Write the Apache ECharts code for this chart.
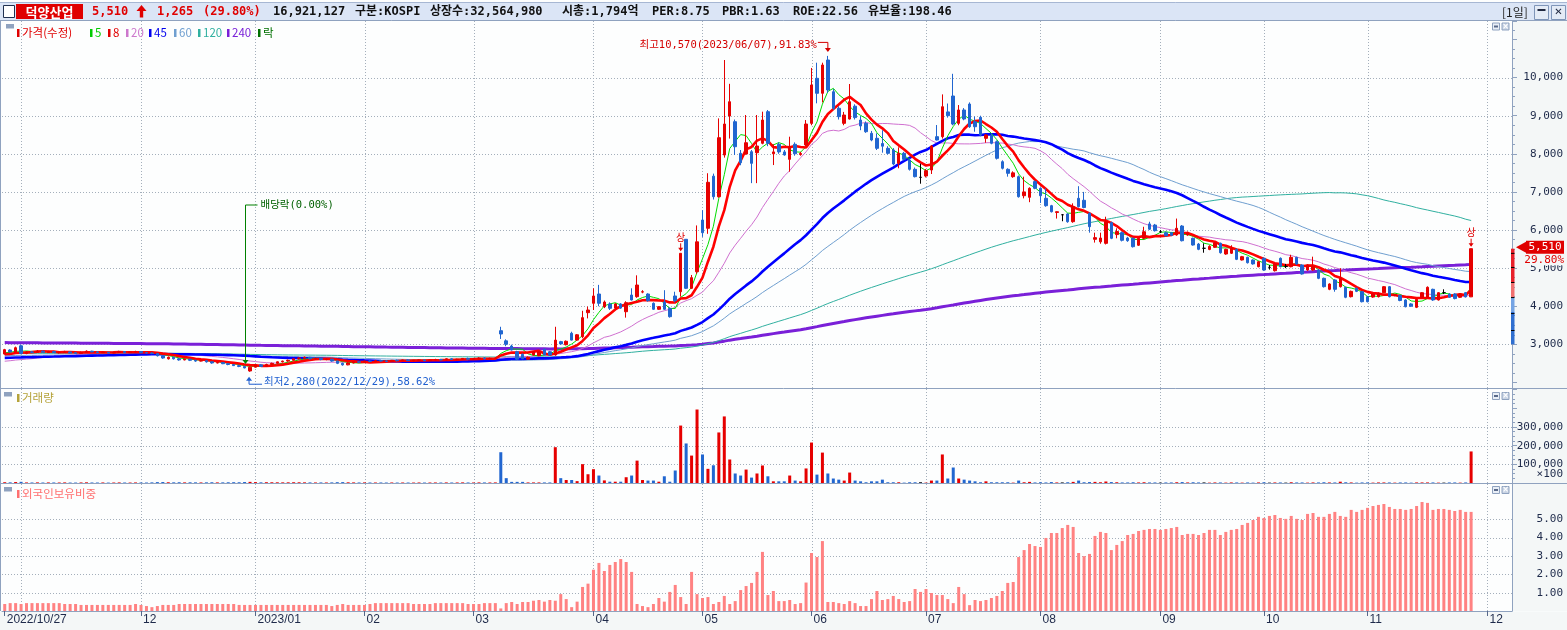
<!DOCTYPE html>
<html><head><meta charset="utf-8">
<script src="https://cdn.jsdelivr.net/npm/echarts@6/dist/echarts.min.js"></script>
<style>html,body{margin:0;padding:0;background:#fff;overflow:hidden}#c{width:1567px;height:630px}</style>
</head><body><div id="c"></div>
<script>
// ---------- categories (trading days) ----------
const firstDate = '2022-10-27';
const slotCount = 277; // 270 trading days + 7 empty future slots
const holidays = ['2022-12-30','2023-01-23','2023-01-24','2023-03-01','2023-05-01','2023-05-05','2023-05-29',
  '2023-06-06','2023-08-15','2023-09-28','2023-09-29','2023-10-02','2023-10-03','2023-10-09'];
const monthTickLabels = ['2022/10/27','','12','2023/01','02','03','04','05','06','07','08','09','10','11','12'];

// ---------- price (OHLC) ----------
const opens = [
2745,2850,2800,2960,2760,2800,2790,2820,2780,2810,
2780,2790,2800,2780,2760,2790,2820,2800,2780,2790,
2770,2790,2810,2780,2800,2810,2780,2770,2760,2700,
2620,2660,2620,2590,2610,2580,2560,2570,2540,2510,
2520,2490,2470,2440,2420,2300,2400,2460,2420,2470,
2500,2540,2560,2580,2620,2640,2660,2620,2630,2600,
2610,2560,2500,2460,2510,2540,2530,2560,2550,2570,
2560,2550,2580,2570,2590,2570,2580,2590,2570,2590,
2600,2590,2620,2600,2610,2630,2610,2620,2640,2620,
2630,3357,3090,2955,2805,2737,2610,2720,2700,2870,
2805,2720,3070,2990,3290,3110,3200,3830,4076,4320,
3987,4058,3950,4060,3855,4294,4250,4370,4320,4076,
3919,4110,3945,4268,4380,5756,4470,4905,6262,6045,
7414,6874,7968,8992,8843,8013,7995,8055,8029,8276,
9106,8000,8250,8050,7855,8250,7980,8231,8800,9982,
9588,10462,9630,9195,8800,8913,9250,8887,8800,8538,
8407,8270,8144,8100,7750,8013,7837,7593,7383,7417,
7575,8450,8450,9100,9517,8800,9150,9307,8843,8958,
8407,8493,8317,7793,7593,7400,7400,6900,6858,7270,
7095,6832,6638,6460,6400,6420,6218,6832,6780,6438,
5756,5690,5650,6192,5880,5930,5790,5782,5600,5782,
6160,6131,5955,5930,5930,5870,6105,5870,5782,5632,
5520,5490,5546,5650,5370,5390,5493,5213,5283,5213,
5037,5257,5020,4932,5257,5046,5037,5283,5081,4950,
4950,4950,4732,4443,4688,4512,4496,4250,4470,4380,
4250,4240,4250,4355,4512,4280,4280,4163,4060,3971,
4234,4234,4443,4163,4355,4320,4320,4234,4355,4245];
const highs = [
2880,2870,2940,2990,2820,2830,2850,2840,2830,2830,
2810,2830,2810,2800,2810,2840,2830,2820,2810,2800,
2810,2830,2820,2820,2830,2820,2800,2790,2770,2710,
2680,2670,2640,2630,2620,2600,2590,2580,2550,2540,
2530,2500,2480,2460,2430,2420,2470,2480,2490,2520,
2550,2570,2600,2630,2660,2680,2670,2650,2640,2630,
2620,2570,2520,2530,2550,2560,2570,2580,2590,2590,
2580,2590,2600,2600,2610,2590,2600,2600,2600,2620,
2620,2630,2640,2620,2640,2650,2640,2660,2660,2650,
2650,3460,3130,2990,2830,2760,2680,2820,2810,2890,
2820,3460,3090,3100,3330,3270,3880,3990,4470,4560,
4150,4100,4080,4080,4130,4470,4810,4420,4340,4100,
4000,4420,3970,4380,5388,5760,4820,6120,6520,7490,
7480,8930,10462,9837,8900,8100,9018,8100,9018,9106,
9150,8250,8300,8100,8449,8300,8050,8887,10253,10391,
10391,10570,9700,9250,9100,9832,9300,8990,8850,8600,
8538,8620,8200,8150,8170,8050,7880,7640,7740,7600,
8230,8755,9560,9320,10100,9280,9200,9350,8980,9000,
8520,8530,8350,7830,7620,7540,7430,7400,7120,7300,
7120,7095,6660,6490,6420,6440,6700,7150,7000,6460,
5930,5930,6349,6220,6045,5960,5820,5800,5800,6085,
6217,6160,6000,5960,5950,6300,6130,5960,5800,5660,
5650,5600,5690,5670,5510,5600,5510,5320,5300,5230,
5190,5280,5080,5130,5280,5110,5350,5300,5100,5100,
5300,4970,4750,4600,4710,4995,4510,4410,4490,4400,
4270,4340,4360,4530,4530,4320,4300,4180,4080,4200,
4370,4520,4460,4370,4443,4340,4340,4340,4370,5510];
const lows = [
2730,2790,2790,2740,2740,2770,2770,2780,2770,2770,
2760,2780,2760,2750,2750,2780,2790,2770,2770,2760,
2760,2780,2770,2770,2790,2770,2760,2740,2680,2620,
2600,2600,2570,2580,2560,2540,2550,2520,2490,2500,
2480,2450,2430,2400,2370,2280,2390,2410,2410,2460,
2490,2520,2540,2570,2600,2620,2600,2600,2580,2580,
2540,2480,2440,2450,2500,2510,2520,2530,2540,2540,
2530,2540,2550,2560,2560,2550,2560,2560,2560,2580,
2580,2580,2590,2580,2600,2600,2590,2610,2600,2600,
2610,3140,2950,2840,2590,2610,2600,2700,2690,2710,
2700,2700,2990,2970,3100,3090,3160,3680,3900,4000,
3950,3900,3930,3930,3700,4150,4220,4340,4120,3900,
3900,3900,3700,4100,4250,4450,4450,4850,5820,5900,
6800,6850,7900,8400,7968,7700,7980,7230,7230,8250,
8200,7705,8000,7950,7530,7950,7950,8200,8750,9325,
9350,9600,9150,8900,8750,8900,8900,8620,8550,8330,
8100,8030,7980,7700,7620,7820,7560,7380,7215,7380,
7470,8350,8400,8950,8750,8750,8880,8680,8580,8460,
8290,8250,7850,7590,7400,7370,6850,6830,6730,7070,
6710,6610,6460,6300,6230,6190,6190,6590,6570,5930,
5670,5640,5620,5760,5782,5700,5690,5540,5580,5760,
6000,5960,5920,5830,5840,5850,5700,5850,5590,5470,
5404,5470,5530,5380,5350,5370,5210,5200,5120,5090,
5020,4930,4960,4910,5020,5000,5020,5090,4830,4930,
4930,4710,4490,4420,4380,4490,4210,4230,4370,4100,
4100,4220,4230,4340,4230,4260,4130,3970,3980,3950,
4220,4220,4140,4150,4320,4220,4180,4220,4230,4240];
const closes = [
2860,2800,2910,2760,2800,2790,2820,2790,2810,2780,
2790,2800,2770,2760,2790,2820,2800,2780,2790,2770,
2790,2810,2780,2800,2810,2780,2770,2760,2700,2640,
2660,2620,2590,2610,2580,2560,2570,2540,2510,2520,
2490,2470,2440,2420,2380,2400,2460,2420,2470,2500,
2540,2560,2580,2620,2640,2660,2620,2630,2600,2610,
2560,2500,2460,2510,2540,2530,2560,2550,2570,2560,
2550,2580,2570,2590,2570,2580,2590,2570,2590,2600,
2590,2620,2600,2610,2630,2610,2620,2640,2620,2630,
2640,3270,3000,2850,2610,2622,2660,2805,2800,2720,
2720,3110,3010,3080,3110,3250,3700,3900,4268,4076,
4110,3945,4060,3950,4092,4163,4556,4380,4146,3919,
3987,3919,3725,4145,5388,4470,4750,5690,5929,7252,
6874,8423,8782,9367,8186,7766,8291,7750,8205,8887,
8276,8050,8050,7970,8186,8000,8010,8782,9806,9588,
10331,9675,9195,8975,9018,9367,8950,8730,8580,8362,
8144,8200,8013,7732,8013,7855,7593,7400,7383,7557,
8205,8362,9236,9000,8782,9150,8913,8711,8711,8493,
8493,8276,7882,7620,7488,7500,6874,7000,7095,7095,
6900,6638,6480,6480,6400,6218,6612,6612,6590,6087,
5800,5790,6218,5782,5960,5730,5720,5562,5782,5955,
6020,5982,5955,5850,5860,6045,5719,5930,5606,5493,
5520,5570,5667,5404,5493,5530,5230,5300,5142,5110,
5168,4950,5020,5107,5037,5046,5283,5107,4845,5081,
5046,4732,4512,4583,4443,4732,4234,4390,4390,4118,
4118,4320,4340,4512,4250,4300,4150,3987,4000,4181,
4355,4496,4163,4355,4355,4234,4200,4320,4245,5510];

// ---------- volume (x100 shares) ----------
const volumes = [
4200,3500,5100,6300,3000,2800,3300,2600,3100,2900,
2700,3200,2500,2400,3000,3600,2800,2600,2900,2300,
2600,3100,2700,2500,3000,2800,2600,3400,4800,5200,
3900,3600,4100,3300,3800,3500,3000,3600,4100,3200,
3400,3900,4300,4000,5200,6100,4700,3600,4200,3900,
3700,3400,3600,4100,3800,3500,3300,2900,3100,2800,
3300,4400,4800,3600,3200,2900,3100,2800,2700,2900,
2600,2800,2500,2700,2600,2400,2800,2500,2700,2900,
2600,3100,2700,2800,3300,2900,2600,3200,3000,2800,
3100,165000,26000,6000,6000,6000,3000,3000,3000,3000,
3000,192000,26000,16000,16000,10000,101000,47000,74000,40000,
14000,7000,7000,7000,31000,40000,120000,16000,13000,13000,
7000,36000,7000,67000,308000,212000,147000,394000,153000,76000,
95000,271000,357000,126000,51000,40000,72000,29000,51000,94000,
36000,9000,9000,9000,40000,13000,9000,78000,217000,45000,
163000,51000,24000,18000,13000,56000,13000,9000,4000,9000,
9000,18000,4000,4000,4000,2000,4000,4000,4000,2000,
13000,13000,153000,24000,83000,24000,18000,13000,9000,4000,
9000,4000,4000,4000,4000,2000,13000,4000,6000,3000,
4000,3000,5000,3000,3000,4000,6000,13000,4000,5000,
6000,4000,8000,5000,4000,3000,3000,4000,3000,4000,
3000,3000,2000,3000,3000,4000,5000,3000,4000,3000,
3000,2000,3000,3000,2000,3000,3000,2000,3000,2000,
3000,4000,2000,3000,3000,2000,4000,3000,3000,2000,
3000,3000,4000,3000,3000,7000,4000,3000,2000,3000,
3000,2000,3000,3000,3000,2000,3000,3000,2000,3000,
3000,3000,3000,2000,2000,3000,3000,2000,3000,169211];

// ---------- foreign ownership ratio (%) ----------
const foreignRatio = [
0.38,0.43,0.43,0.38,0.43,0.43,0.43,0.43,0.43,0.43,
0.43,0.38,0.38,0.38,0.33,0.33,0.33,0.33,0.33,0.33,
0.33,0.33,0.33,0.33,0.38,0.33,0.27,0.21,0.27,0.33,
0.33,0.33,0.38,0.38,0.38,0.38,0.38,0.38,0.38,0.38,
0.38,0.38,0.38,0.33,0.33,0.33,0.33,0.33,0.33,0.33,
0.33,0.33,0.33,0.33,0.33,0.33,0.33,0.33,0.33,0.33,
0.27,0.33,0.38,0.33,0.33,0.33,0.33,0.38,0.43,0.43,
0.43,0.43,0.43,0.43,0.43,0.38,0.38,0.38,0.38,0.43,
0.43,0.43,0.43,0.43,0.43,0.38,0.38,0.38,0.43,0.43,
0.43,0.14,0.43,0.49,0.38,0.49,0.49,0.56,0.60,0.51,
0.60,0.56,0.92,0.65,0.21,0.51,1.31,1.49,2.25,2.62,
2.18,2.51,2.67,2.83,2.67,2.13,0.38,0.27,0.21,0.38,
0.71,0.51,1.04,1.42,0.76,0.38,2.13,0.92,0.71,0.76,
0.38,0.49,0.82,0.38,0.54,1.14,1.36,1.53,2.13,3.22,
0.87,1.09,0.54,0.54,0.60,0.38,0.43,1.55,3.16,2.94,
3.81,0.49,0.49,0.43,0.38,0.54,0.43,0.27,0.27,0.65,
1.09,0.60,0.65,0.82,0.65,0.49,0.54,1.20,1.04,1.20,
0.98,0.87,0.87,0.65,0.43,1.31,0.92,0.32,0.60,0.54,
0.60,0.71,0.82,1.09,1.53,1.58,2.94,3.32,3.65,3.54,
3.49,3.98,4.25,4.25,4.52,4.69,4.58,3.16,2.99,3.11,
4.09,4.31,4.25,3.32,3.60,3.81,4.14,4.20,4.36,4.42,
4.47,4.47,4.42,4.47,4.52,4.58,4.14,4.20,4.20,4.14,
4.25,4.42,4.42,4.14,4.31,4.42,4.47,4.69,4.80,4.96,
5.13,5.07,5.18,5.23,5.07,5.02,5.18,5.02,4.96,5.29,
5.34,5.13,5.13,5.29,5.40,5.18,5.13,5.51,5.40,5.51,
5.62,5.72,5.78,5.83,5.67,5.56,5.56,5.51,5.56,5.72,
5.94,5.89,5.51,5.56,5.56,5.51,5.45,5.51,5.40,5.40];

// ---------- moving averages: periods, values at the left edge (read), styles ----------
const maPeriods = [5, 8, 20, 45, 60, 120, 240];
const maStartValues = [2760, 2720, 2540, 2640, 2700, 2760, 3045];
const maColors = ['#00dd00', '#ff0000', '#d070d0', '#0000ff', '#6f9fd0', '#30b0a0', '#7a20d8'];
const maWidths = [1, 2.6, 1, 2.6, 1, 1, 3];
const maDrawOrder = [6, 5, 4, 2, 3, 0, 1];

// ---------- axis ticks ----------
const priceTicks = [3000,4000,5000,6000,7000,8000,9000,10000];
const volumeTicks = [100000,200000,300000];
const foreignTicks = [1,2,3,4,5];

// ---------- annotation values ----------
const highIdx = 151, highVal = 10570, highText = '최고10,570(2023/06/07),91.83%';
const lowIdx = 45, lowVal = 2280, lowText = '최저2,280(2022/12/29),58.62%';
const exDivIdx = 44, exDivText = '배당락(0.00%)';
const limitUpIdx = [124, 269];
const lastPrice = 5510, lastChange = '1,265', lastPct = '29.80%';

// ===== build dates =====
const hol = new Set(holidays);
const dates = [];
{
  const p = firstDate.split('-').map(Number);
  const d = new Date(Date.UTC(p[0], p[1]-1, p[2]));
  while (dates.length < slotCount) {
    const wd = d.getUTCDay(), s = d.toISOString().slice(0,10);
    if (wd !== 0 && wd !== 6 && !hol.has(s)) dates.push(s);
    d.setUTCDate(d.getUTCDate()+1);
  }
}
const monthStarts = [];
dates.forEach((s, i) => { if (i === 0 || s.slice(0,7) !== dates[i-1].slice(0,7)) monthStarts.push(i); });
const labelAt = {};
monthStarts.forEach((idx, k) => { if (monthTickLabels[k]) labelAt[idx] = monthTickLabels[k]; });

function movingAverage(period, startVal) {
  const out = [];
  for (let i = 0; i < closes.length; i++) {
    let s = 0;
    for (let k = i - period + 1; k <= i; k++) s += k >= 0 ? closes[k] : startVal;
    out.push(Math.round(s / period * 10) / 10);
  }
  return out;
}

const UP = '#e60000', DOWN = '#2166d0', FLAT = '#000000';
const candleData = closes.map((c, i) => {
  const it = { value: [opens[i], c, lows[i], highs[i]] };
  if (opens[i] === c) it.itemStyle = { color: FLAT, color0: FLAT, borderColor: FLAT, borderColor0: FLAT };
  return it;
});
const volumeData = volumes.map((v, i) => ({
  value: v,
  itemStyle: { color: closes[i] > opens[i] ? UP : (closes[i] < opens[i] ? DOWN : FLAT) }
}));

const AX = '#8fa2bf', LBL = '#1e2a4a';
const monoFont = '"DejaVu Sans Mono", "Noto Sans CJK KR", monospace';
const xAxes = [0, 1, 2].map(g => ({
  type: 'category', gridIndex: g, data: dates, boundaryGap: true,
  axisLine: { show: g === 2, lineStyle: { color: AX } },
  axisTick: g === 2 ? { show: true, alignWithLabel: true, interval: (i) => labelAt[i] !== undefined, length: 5, lineStyle: { color: '#56688a' } } : { show: false },
  axisLabel: g === 2 ? {
    show: true, interval: (i) => labelAt[i] !== undefined, formatter: (v, i) => labelAt[i] || '',
    align: 'left', margin: 3, color: LBL, fontFamily: 'Liberation Sans', fontSize: 12, padding: [0, 0, 0, 2]
  } : { show: false },
  splitLine: { show: false }
}));

const yLabel = { align: 'right', margin: 51, color: LBL, fontFamily: 'DejaVu Sans Mono', fontSize: 11 };
const yAxes = [
  { type: 'value', gridIndex: 0, position: 'right', min: 1853, max: 11486, splitNumber: 10,
    axisLine: { show: true, lineStyle: { color: AX } },
    axisTick: { show: true, length: 5, lineStyle: { color: AX } },
    minorTick: { show: true, splitNumber: 4, length: 3, lineStyle: { color: AX } },
    splitLine: { show: false },
    axisLabel: Object.assign({ formatter: v => priceTicks.includes(v) ? v.toLocaleString('en-US') : '' }, yLabel) },
  { type: 'value', gridIndex: 1, position: 'right', min: 0, max: 504000, splitNumber: 5,
    axisLine: { show: true, lineStyle: { color: AX } },
    axisTick: { show: true, length: 5, lineStyle: { color: AX } },
    minorTick: { show: true, splitNumber: 4, length: 3, lineStyle: { color: AX } },
    splitLine: { show: false },
    axisLabel: Object.assign({ formatter: v => volumeTicks.includes(v) ? v.toLocaleString('en-US') : '' }, yLabel) },
  { type: 'value', gridIndex: 2, position: 'right', min: 0, max: 6.92, splitNumber: 7,
    axisLine: { show: true, lineStyle: { color: AX } },
    axisTick: { show: false },
    splitLine: { show: false },
    axisLabel: Object.assign({ formatter: v => foreignTicks.includes(Math.round(v * 100) / 100) ? v.toFixed(2) : '' }, yLabel) }
];

const series = [];
maDrawOrder.forEach(k => {
  series.push({
    type: 'line', name: 'MA' + maPeriods[k], xAxisIndex: 0, yAxisIndex: 0,
    data: movingAverage(maPeriods[k], maStartValues[k]),
    symbol: 'none', showSymbol: false, silent: true, z: 3,
    lineStyle: { color: maColors[k], width: maWidths[k] }
  });
});
series.push({
  type: 'candlestick', name: '가격', xAxisIndex: 0, yAxisIndex: 0, data: candleData, barWidth: 3, z: 4, silent: true,
  itemStyle: { color: UP, color0: DOWN, borderColor: UP, borderColor0: DOWN, borderWidth: 1 }
});
series.push({
  type: 'bar', name: '거래량', xAxisIndex: 1, yAxisIndex: 1, data: volumeData, barWidth: 3, silent: true
});
series.push({
  type: 'bar', name: '외국인보유비중', xAxisIndex: 2, yAxisIndex: 2, data: foreignRatio, barWidth: 3, silent: true,
  itemStyle: { color: '#ff8282' }
});

const PLOT_L = 2, PLOT_W = 1510;
const panels = [
  { top: 21, height: 367, ticks: priceTicks },
  { top: 389, height: 94, ticks: volumeTicks },
  { top: 484, height: 127, ticks: foreignTicks }
];

const chart = echarts.init(document.getElementById('c'));
chart.setOption({
  animation: false,
  backgroundColor: '#fdfefe',
  grid: panels.map(p => ({ left: PLOT_L, top: p.top, width: PLOT_W, height: p.height })),
  xAxis: xAxes, yAxis: yAxes, series
});

// ===== overlay graphics =====
const G = [];
const rect = (x, y, w, h, fill, z = 100, stroke) => G.push({ type: 'rect', z, silent: true, shape: { x, y, width: w, height: h }, style: { fill, stroke: stroke || null, lineWidth: 1 } });
const line = (x1, y1, x2, y2, stroke, z = 100, w = 1, dash) => G.push({ type: 'line', z, silent: true, shape: { x1, y1, x2, y2 }, style: { stroke, lineWidth: w, lineDash: dash || null } });
const poly = (points, fill, z = 100) => G.push({ type: 'polygon', z, silent: true, shape: { points }, style: { fill } });
const text = (x, y, t, fill, font, align = 'left', extra = {}) => G.push({ type: 'text', z: 101, silent: true, x, y,
  style: Object.assign({ text: t, fill, font, textAlign: align, textVerticalAlign: 'middle', align: align, verticalAlign: 'middle' }, extra) });

// backgrounds of the label areas
rect(1512.5, 21, 55, 590, '#f4f7f7', -1);
rect(0, 611.5, 1567, 19, '#f4f7f7', -1);

// dotted grid lines, placed through the axes' own scales
const GRID_C = '#a4afbb', DOT = [1, 2];
panels.forEach((p, g) => {
  p.ticks.forEach(v => {
    const y = Math.round(chart.convertToPixel({ gridIndex: g }, [0, v])[1]) + 0.5;
    line(PLOT_L, y, PLOT_L + PLOT_W, y, GRID_C, 1, 1, DOT);
  });
  monthStarts.slice(1).forEach(i => {
    const x = Math.round(chart.convertToPixel({ gridIndex: g }, [i, 0])[0]) + 0.5;
    line(x, p.top, x, p.top + p.height, GRID_C, 1, 1, DOT);
  });
});

// panel frames
line(0.5, 21, 0.5, 611, AX);
line(0, 388.5, 1567, 388.5, AX);
line(0, 483.5, 1567, 483.5, AX);

// header
rect(0, 2.5, 1567, 18, '#dbe5f6', 90);
line(0, 2.5, 1567, 2.5, '#a7b7d3', 91);
line(0, 20.5, 1567, 20.5, AX, 91);
rect(3.5, 5.5, 11, 12, '#ffffff', 92, '#203050');
rect(16, 4, 67, 15, '#e00000', 92);
const hb = 'bold 12px ' + monoFont;
text(49.5, 12, '덕양산업', '#ffffff', 'bold 13px "Noto Sans CJK KR"', 'center');
text(92, 12, lastPrice.toLocaleString('en-US'), '#e00000', hb);
poly([[136.5, 11], [141.5, 5], [146.5, 11]], '#e00000', 95);
rect(139.8, 10.5, 3.4, 7, '#e00000', 95);
text(157, 12, lastChange, '#e00000', hb);
text(203, 12, '(' + lastPct + ')', '#e00000', hb);
text(273, 12, '16,921,127', '#111111', hb);
text(355, 12, '구분:KOSPI', '#111111', hb);
text(430, 12, '상장수:32,564,980', '#111111', hb);
text(562, 12, '시총:1,794억', '#111111', hb);
text(652, 12, 'PER:8.75', '#111111', hb);
text(722, 12, 'PBR:1.63', '#111111', hb);
text(793, 12, 'ROE:22.56', '#111111', hb);
text(868, 12, '유보율:198.46', '#111111', hb);
text(1502, 12, '[1일]', '#222222', '12px "Noto Sans CJK KR"');
rect(1534.5, 5.5, 14, 14, '#e4ebf6', 92, '#7f95b8');
rect(1537.5, 9, 8, 2, '#202840', 93);
rect(1551.5, 5.5, 14, 14, '#e4ebf6', 92, '#7f95b8');
text(1558.5, 12.5, '✕', '#202840', 'bold 10px "DejaVu Sans"', 'center');

// panel icons (gray tab + small window buttons)
[[6, 24], [4, 392], [4, 487]].forEach(([x, y]) => rect(x, y, 8, 4.5, AX, 95));
[[1492.5, 23], [1492.5, 392.5], [1492.5, 486.5]].forEach(([x, y]) => {
  rect(x, y, 7, 7, '#e8eef6', 95, '#8fa2bf');
  rect(x + 1.5, y + 2.5, 4, 2, '#5a6a8a', 96);
  rect(x + 9.5, y, 7, 7, '#c9d4e4', 95, '#8fa2bf');
  text(x + 13, y + 3.7, '×', '#ffffff', 'bold 8px "DejaVu Sans"', 'center');
});

// legend of main panel
const legendFont = '11.5px "Noto Sans CJK KR"';
const legendItems = [
  [17, '가격(수정)', '#e00000'], [90, '5', '#00cc00'], [108, '8', '#e00000'], [126, '20', '#cc77cc'],
  [149, '45', '#0000ee'], [174, '60', '#6f9fd0'], [198, '120', '#30b0a0'], [227, '240', '#7a20d8'], [258, '락', '#007000']
];
legendItems.forEach(([x, t, c]) => { rect(x, 29, 2.5, 8, c, 95); text(x + 5, 33, t, c, legendFont); });
rect(17, 394, 2.5, 8, '#b5a33a', 95); text(22, 398, '거래량', '#b5a33a', legendFont);
rect(17, 490, 2.5, 8, '#ff7070', 95); text(22, 494, '외국인보유비중', '#ff7070', legendFont);
text(1563, 474, '×100', LBL, '11px "DejaVu Sans Mono"', 'right');

// data-anchored annotations
const px = (i, v) => chart.convertToPixel({ gridIndex: 0 }, [i, v]);
const annFont = '10.5px ' + monoFont;
{
  const [x, y] = px(highIdx, highVal);
  text(x - 11, y - 11, highText, '#d40000', annFont, 'right');
  G.push({ type: 'polyline', z: 100, silent: true, shape: { points: [[x - 10, y - 13.5], [x, y - 13.5], [x, y - 5]] }, style: { stroke: '#d40000', lineWidth: 1, fill: null } });
  poly([[x - 3, y - 8], [x + 3, y - 8], [x, y - 4]], '#d40000');
}
{
  const [x, y] = px(lowIdx, lowVal);
  G.push({ type: 'polyline', z: 100, silent: true, shape: { points: [[x - 1, y + 8], [x - 1, y + 12.5], [x + 12, y + 12.5]] }, style: { stroke: '#1f5fd0', lineWidth: 1, fill: null } });
  poly([[x - 4, y + 9], [x + 2, y + 9], [x - 1, y + 5]], '#1f5fd0');
  text(x + 14, y + 10.5, lowText, '#1f5fd0', annFont);
}
{
  const [x, yh] = px(exDivIdx, highs[exDivIdx]);
  const xx = Math.round(x) + 0.5;
  line(xx, 205, xx, yh - 5, '#008000');
  line(xx, 205, xx + 12, 205, '#008000');
  poly([[xx - 3, yh - 6], [xx + 3, yh - 6], [xx, yh - 2]], '#008000');
  text(xx + 15, 205, exDivText, '#006000', annFont);
}
limitUpIdx.forEach(i => {
  const [x, y] = px(i, highs[i]);
  text(x, y - 16, '상', '#e00000', '10px "Noto Sans CJK KR"', 'center');
  line(x, y - 10, x, y - 3, '#e00000');
  poly([[x - 2.5, y - 5.5], [x + 2.5, y - 5.5], [x, y - 2]], '#e00000');
});
{
  // last price tag on the right axis
  const [, ty] = px(closes.length - 1, lastPrice);
  poly([[1516, ty - 1.5], [1526, ty - 7], [1526, ty + 4]], '#e00000');
  rect(1526, ty - 8, 38, 13, '#e00000');
  text(1545, ty - 1.5, lastPrice.toLocaleString('en-US'), '#ffffff', '11px "DejaVu Sans Mono"', 'center');
  text(1564, ty + 11, lastPct, '#e00000', '11px "DejaVu Sans Mono"', 'right', { backgroundColor: '#f4f7f7', padding: [0, 0, 0, 2] });
  // price band bar along the axis (3,000 .. last price)
  const seg = [[lastPrice, 4635, '#e8202a'], [4635, 4240, '#f07070'], [4240, 3850, '#74a4e4'], [3850, 3000, '#2f6fd0']];
  seg.forEach(([a, b, c]) => { const ya = px(0, a)[1], yb = px(0, b)[1]; rect(1511, ya, 3.5, yb - ya, c, 99); });
  [5400, 5030, 4635, 4240, 3820, 3375].forEach(v => rect(1511, px(0, v)[1], 3.5, 1, '#000000', 100));
}
chart.setOption({ graphic: { elements: G } });
</script>
</body></html>
